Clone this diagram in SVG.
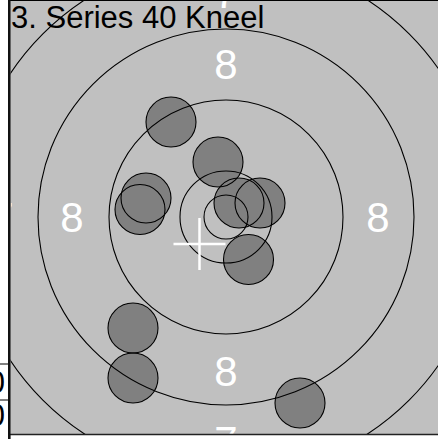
<svg xmlns="http://www.w3.org/2000/svg" width="438" height="439" viewBox="0 0 438 439">
<style>
.ring{fill:none;stroke:#000;stroke-width:1.1}
.shot{fill:#808080}
.shotline{fill:none;stroke:#000;stroke-width:1.1}
.lbl{font-family:"Liberation Sans",Arial,sans-serif;font-size:42px;fill:#fff;text-anchor:middle}
.cross{stroke:#fff;stroke-width:2.5}
</style>
<defs>
<clipPath id="plot"><rect x="10.5" y="1" width="427.5" height="433"/></clipPath>
<clipPath id="side"><rect x="0" y="0" width="8" height="439"/></clipPath>
<circle id="s" r="25"/>
</defs>
<rect x="0" y="0" width="438" height="439" fill="#fff"/>
<g id="plotarea" clip-path="url(#plot)">
<rect x="10" y="0" width="428" height="435" fill="#c0c0c0"/>
<g id="labels">
<text class="lbl" x="226" y="79">8</text>
<text class="lbl" x="72" y="232">8</text>
<text class="lbl" x="378" y="232">8</text>
<text class="lbl" x="226" y="386">8</text>
<text class="lbl" x="226" y="8">7</text>
<text class="lbl" x="226" y="456">7</text>
<text class="lbl" x="2" y="232">7</text>
</g>
<g id="shots">
<use href="#s" class="shot" x="171" y="122"/>
<use href="#s" class="shot" x="218" y="162"/>
<use href="#s" class="shot" x="146" y="198"/>
<use href="#s" class="shot" x="140" y="209.5"/>
<use href="#s" class="shot" x="239" y="203"/>
<use href="#s" class="shot" x="260" y="203"/>
<use href="#s" class="shot" x="248.5" y="259.5"/>
<use href="#s" class="shot" x="133" y="328"/>
<use href="#s" class="shot" x="133" y="378"/>
<use href="#s" class="shot" x="300" y="403"/>
</g>
<g id="shotoutlines">
<use href="#s" class="shotline" x="171" y="122"/>
<use href="#s" class="shotline" x="218" y="162"/>
<use href="#s" class="shotline" x="146" y="198"/>
<use href="#s" class="shotline" x="140" y="209.5"/>
<use href="#s" class="shotline" x="239" y="203"/>
<use href="#s" class="shotline" x="260" y="203"/>
<use href="#s" class="shotline" x="248.5" y="259.5"/>
<use href="#s" class="shotline" x="133" y="328"/>
<use href="#s" class="shotline" x="133" y="378"/>
<use href="#s" class="shotline" x="300" y="403"/>
</g>
<g id="rings">
<circle class="ring" cx="226" cy="217" r="22"/>
<circle class="ring" cx="226" cy="217" r="46"/>
<circle class="ring" cx="226" cy="217" r="117"/>
<circle class="ring" cx="226" cy="217" r="188"/>
<circle class="ring" cx="226" cy="217" r="259"/>
</g>
<g id="cross">
<line class="cross" x1="199.5" y1="218" x2="199.5" y2="270"/>
<line class="cross" x1="173.5" y1="244" x2="225.5" y2="244"/>
</g>
<text x="11" y="28" font-family="Liberation Sans, Arial, sans-serif" font-size="31" fill="#000">3. Series 40 Kneel</text>
</g>
<g id="frame">
<line x1="9" y1="0.5" x2="438" y2="0.5" stroke="#000" stroke-width="1.2"/>
<line x1="9" y1="434.5" x2="438" y2="434.5" stroke="#222" stroke-width="1.4"/>
<line x1="9.3" y1="0" x2="9.3" y2="439" stroke="#111" stroke-width="2.6"/>
</g>
<g id="sidetable" clip-path="url(#side)">
<line x1="0" y1="364" x2="9" y2="364" stroke="#000" stroke-width="1"/>
<line x1="0" y1="400" x2="9" y2="400" stroke="#000" stroke-width="1"/>
<text x="5" y="393" font-family="Liberation Sans, Arial, sans-serif" font-size="31" text-anchor="end" fill="#000">0</text>
<text x="5" y="426" font-family="Liberation Sans, Arial, sans-serif" font-size="31" text-anchor="end" fill="#000">0</text>
</g>
</svg>
